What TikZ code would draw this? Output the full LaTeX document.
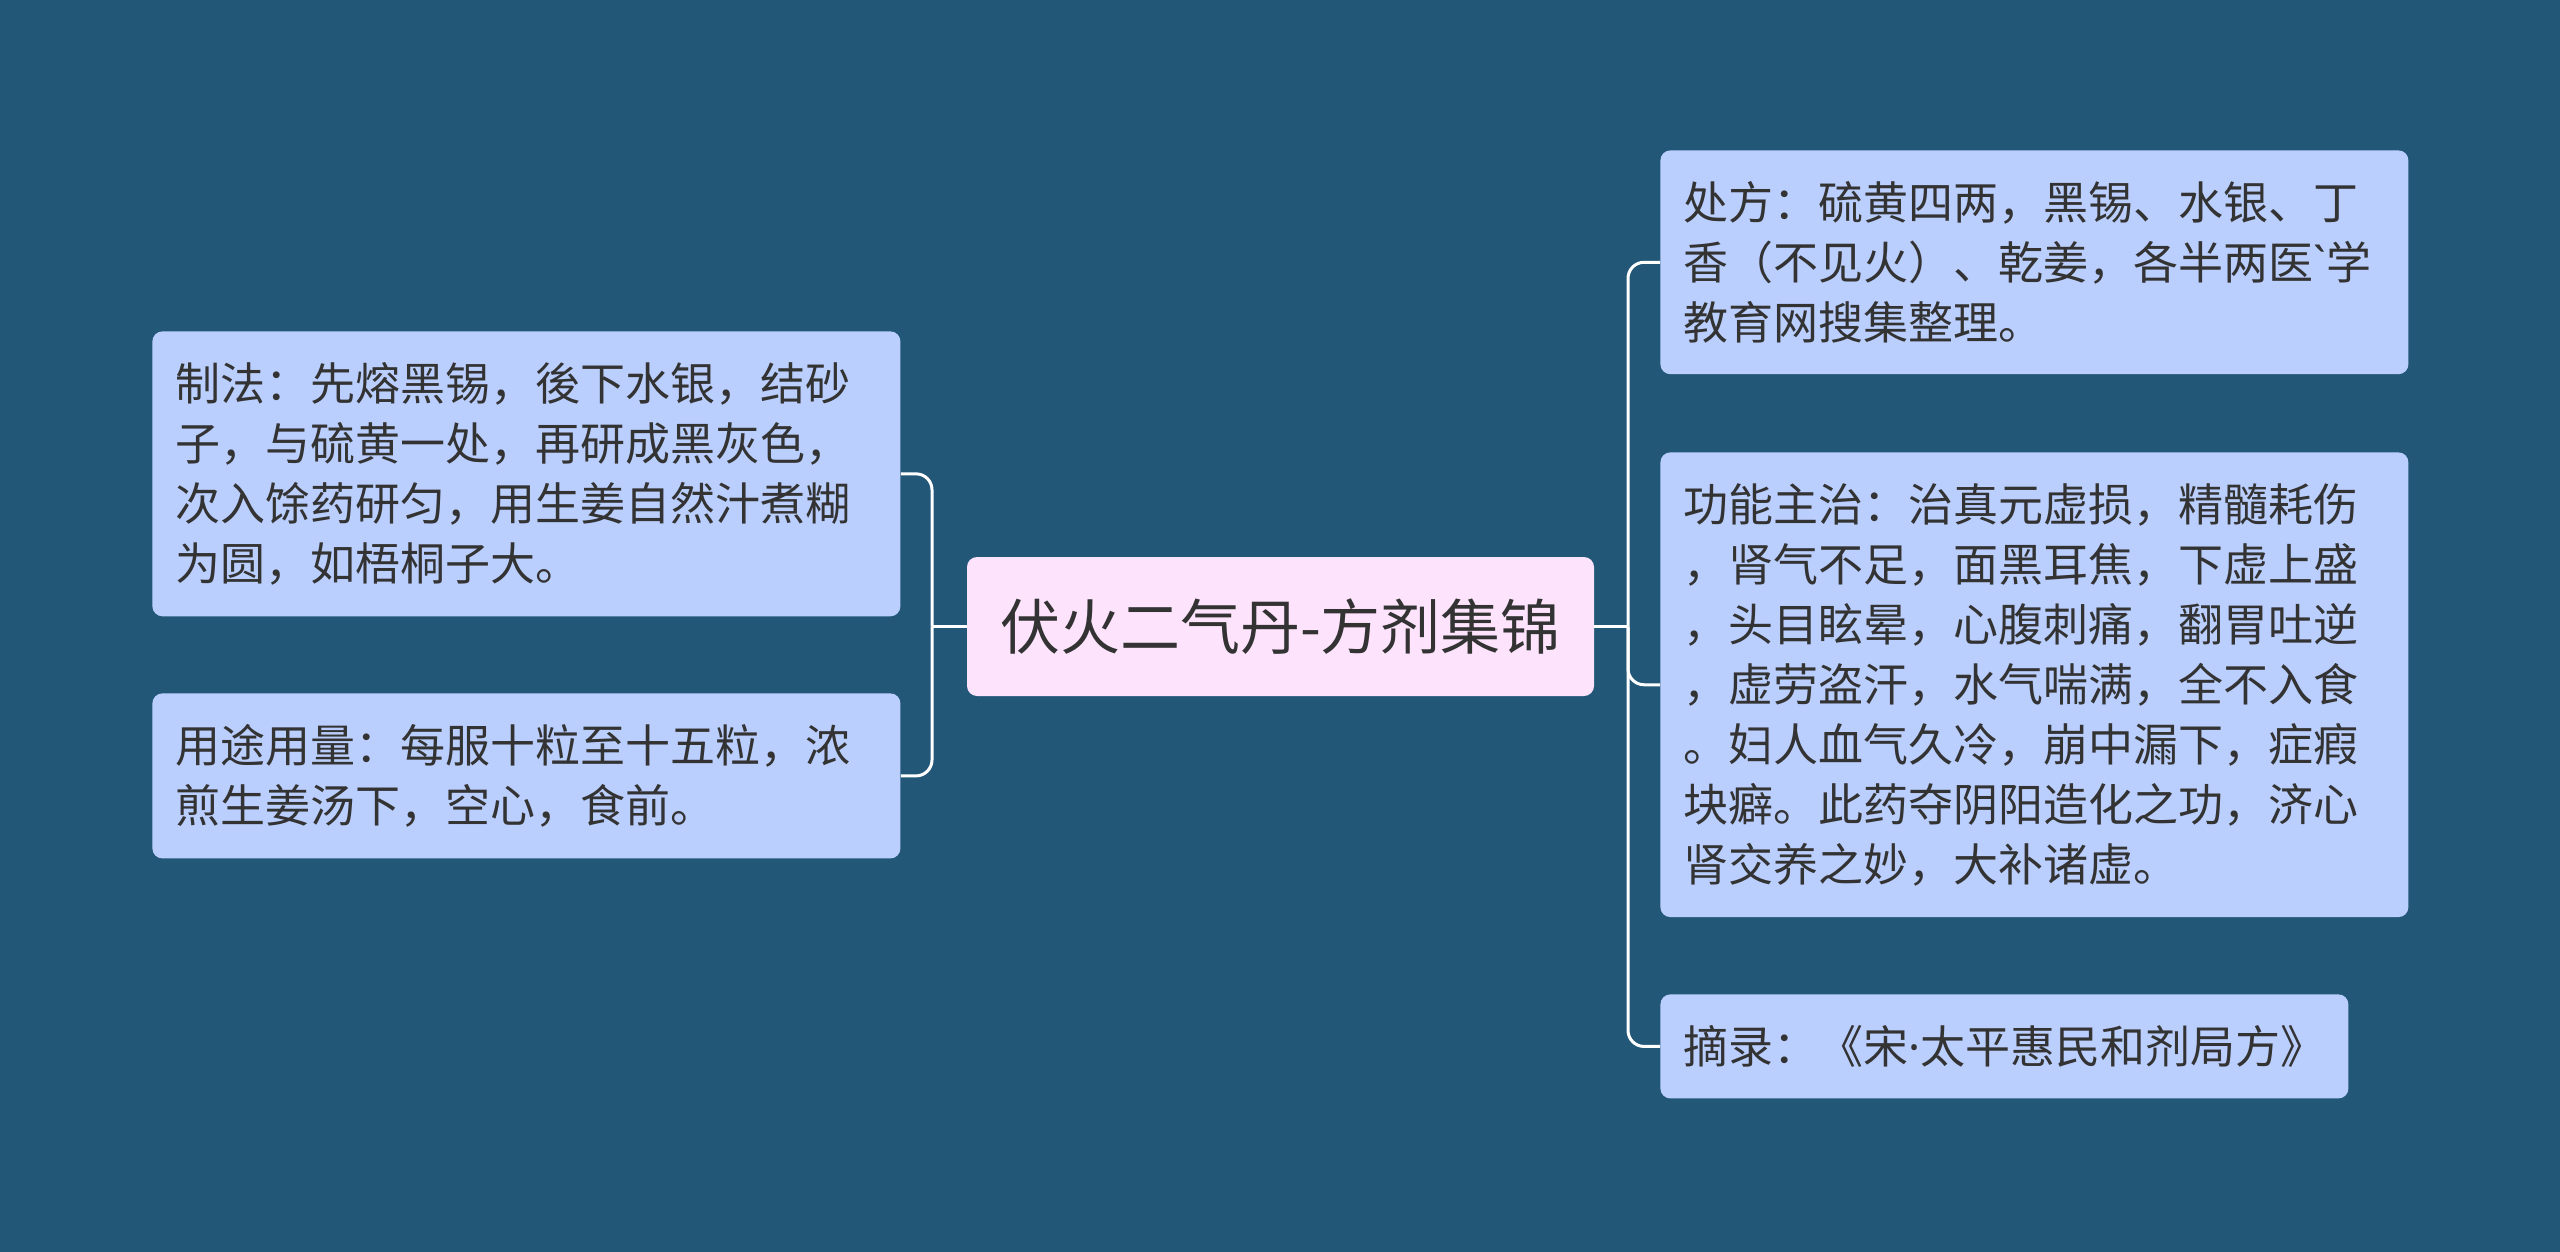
\documentclass[tikz,border=0pt]{standalone}
\usepackage{fontspec}
\setmainfont{Noto Sans CJK SC}
\newfontfamily\lateinisch{Noto Sans}
\definecolor{hintergrund}{HTML}{235778}
\definecolor{astblau}{HTML}{BBCFFE}
\definecolor{kernrosa}{HTML}{FDE3FC}
\definecolor{schrift}{HTML}{333333}
\begin{document}
\begin{tikzpicture}[
        x=0.5pt, y=-0.5pt,
        font=\fontsize{22.5pt}{30pt}\selectfont,
        ast/.style={
            fill=astblau,
            rounded corners=5pt,
            align=left,
            text=schrift,
            inner xsep=11.5pt,
            inner ysep=15.5pt,
            text width=351pt,
            anchor=north west
        },
        kern/.style={
            fill=kernrosa,
            rounded corners=5pt,
            text=schrift,
            font=\fontsize{30pt}{36pt}\selectfont,
            minimum width=313.5pt,
            minimum height=69.5pt
        },
        verbinder/.style={
            draw=white,
            line width=1.5pt,
            rounded corners=8pt
        }
    ]
    % Hintergrund
    \fill[hintergrund] (0,0) rectangle (2560,1252);
    % Zentrum
    \node[kern] (haupt) at (1280.5,626.5) {伏火二气丹-方剂集锦};
    % Aeste links
    \node[ast] (zhifa) at (152,331)
        {制法：先熔黑锡，後下水银，结砂\\
         子，与硫黄一处，再研成黑灰色，\\
         次入馀药研匀，用生姜自然汁煮糊\\
         为圆，如梧桐子大。};
    \node[ast] (yongtu) at (152,693)
        {用途用量：每服十粒至十五粒，浓\\
         煎生姜汤下，空心，食前。};
    % Aeste rechts
    \node[ast] (chufang) at (1660,150)
        {处方：硫黄四两，黑锡、水银、丁\\
         香（不见火）、乾姜，各半两医{\lateinisch\symbol{"60}}学\\
         教育网搜集整理。};
    \node[ast] (gongneng) at (1660,452)
        {功能主治：治真元虚损，精髓耗伤\\
         ，肾气不足，面黑耳焦，下虚上盛\\
         ，头目眩晕，心腹刺痛，翻胃吐逆\\
         ，虚劳盗汗，水气喘满，全不入食\\
         。妇人血气久冷，崩中漏下，症瘕\\
         块癖。此药夺阴阳造化之功，济心\\
         肾交养之妙，大补诸虚。};
    \node[ast, text width=321pt] (zhailu) at (1660,994)
        {摘录：《宋{\lateinisch\symbol{"B7}}太平惠民和剂局方》};
    % Verbindungen
    \coordinate (links) at (932,626.5);
    \coordinate (rechts) at (1628,626.5);
    \draw[verbinder] (haupt.west) -- (links);
    \draw[verbinder] (links) |- (zhifa.east);
    \draw[verbinder] (links) |- (yongtu.east);
    \draw[verbinder] (haupt.east) -- (rechts);
    \draw[verbinder] (rechts) |- (chufang.west);
    \draw[verbinder] (rechts) |- (gongneng.west);
    \draw[verbinder] (rechts) |- (zhailu.west);
\end{tikzpicture}
\end{document}
